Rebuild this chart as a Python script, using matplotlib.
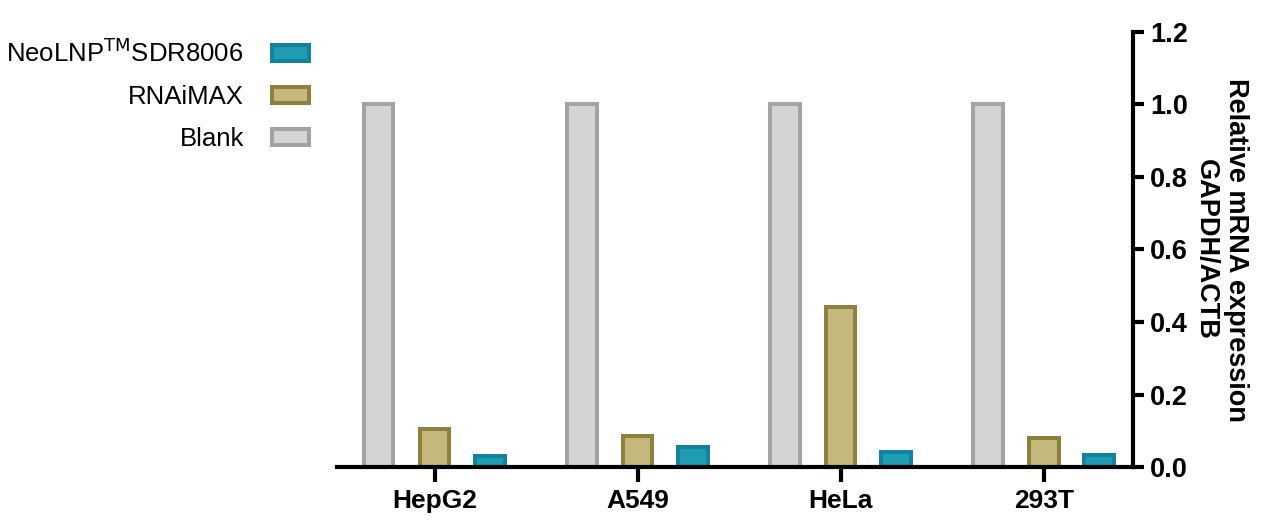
import matplotlib
matplotlib.use("Agg")
import matplotlib.pyplot as plt
import numpy as np

plt.rcParams['font.family'] = ['Liberation Sans', 'DejaVu Sans']

cell_lines = ['HepG2', 'A549', 'HeLa', '293T']
blank = [1.0, 1.0, 1.0, 1.0]
rnaimax = [0.104, 0.086, 0.442, 0.079]
neolnp = [0.030, 0.056, 0.041, 0.033]

series_names = ['Blank', 'RNAiMAX', r'NeoLNP$^{\mathrm{TM}}$SDR8006']
fill_colors = ['#d4d4d4', '#c5b87c', '#1e9db3']
edge_colors = ['#a3a3a3', '#8e8040', '#13829a']

fig = plt.figure(figsize=(12.69, 5.23), dpi=100)
ax = fig.add_axes([0.2656, 0.107, 0.893 - 0.2656, 0.832])

x = np.arange(len(cell_lines))
offsets = [-0.275, 0.0, 0.272]
width = 0.145

handles = []
for vals, off, fc, ec, name in zip([blank, rnaimax, neolnp], offsets,
                                   fill_colors, edge_colors, series_names):
    b = ax.bar(x + off, vals, width, color=fc, edgecolor=ec, linewidth=2.9,
               label=name)
    handles.append(b)

ax.set_xlim(-0.48, 3.44)
ax.set_ylim(0, 1.2)
ax.set_yticks(np.arange(0, 1.21, 0.2))
ax.set_yticklabels([f"{v:.1f}" for v in np.arange(0, 1.21, 0.2)])
ax.set_xticks(x)
ax.set_xticklabels(cell_lines)

ax.yaxis.tick_right()
ax.yaxis.set_label_position('right')
ax.spines['left'].set_visible(False)
ax.spines['top'].set_visible(False)
ax.spines['right'].set_linewidth(3)
ax.spines['bottom'].set_linewidth(3)
ax.tick_params(axis='y', length=8, width=3, labelsize=19.5, pad=4)
ax.tick_params(axis='x', length=11, width=3, labelsize=19, pad=5)
for lbl in ax.get_xticklabels() + ax.get_yticklabels():
    lbl.set_fontweight('bold')

ax.set_ylabel('Relative mRNA expression\nGAPDH/ACTB', rotation=270,
              fontsize=19.5, fontweight='bold', labelpad=44,
              linespacing=1.2)

leg = fig.legend(handles[::-1], series_names[::-1], loc='upper right',
                 bbox_to_anchor=(0.262, 0.97), frameon=False,
                 markerfirst=False, fontsize=18.5, handlelength=1.45,
                 handleheight=0.6, labelspacing=0.7, handletextpad=1.1)

fig.savefig('out.png', dpi=100)
